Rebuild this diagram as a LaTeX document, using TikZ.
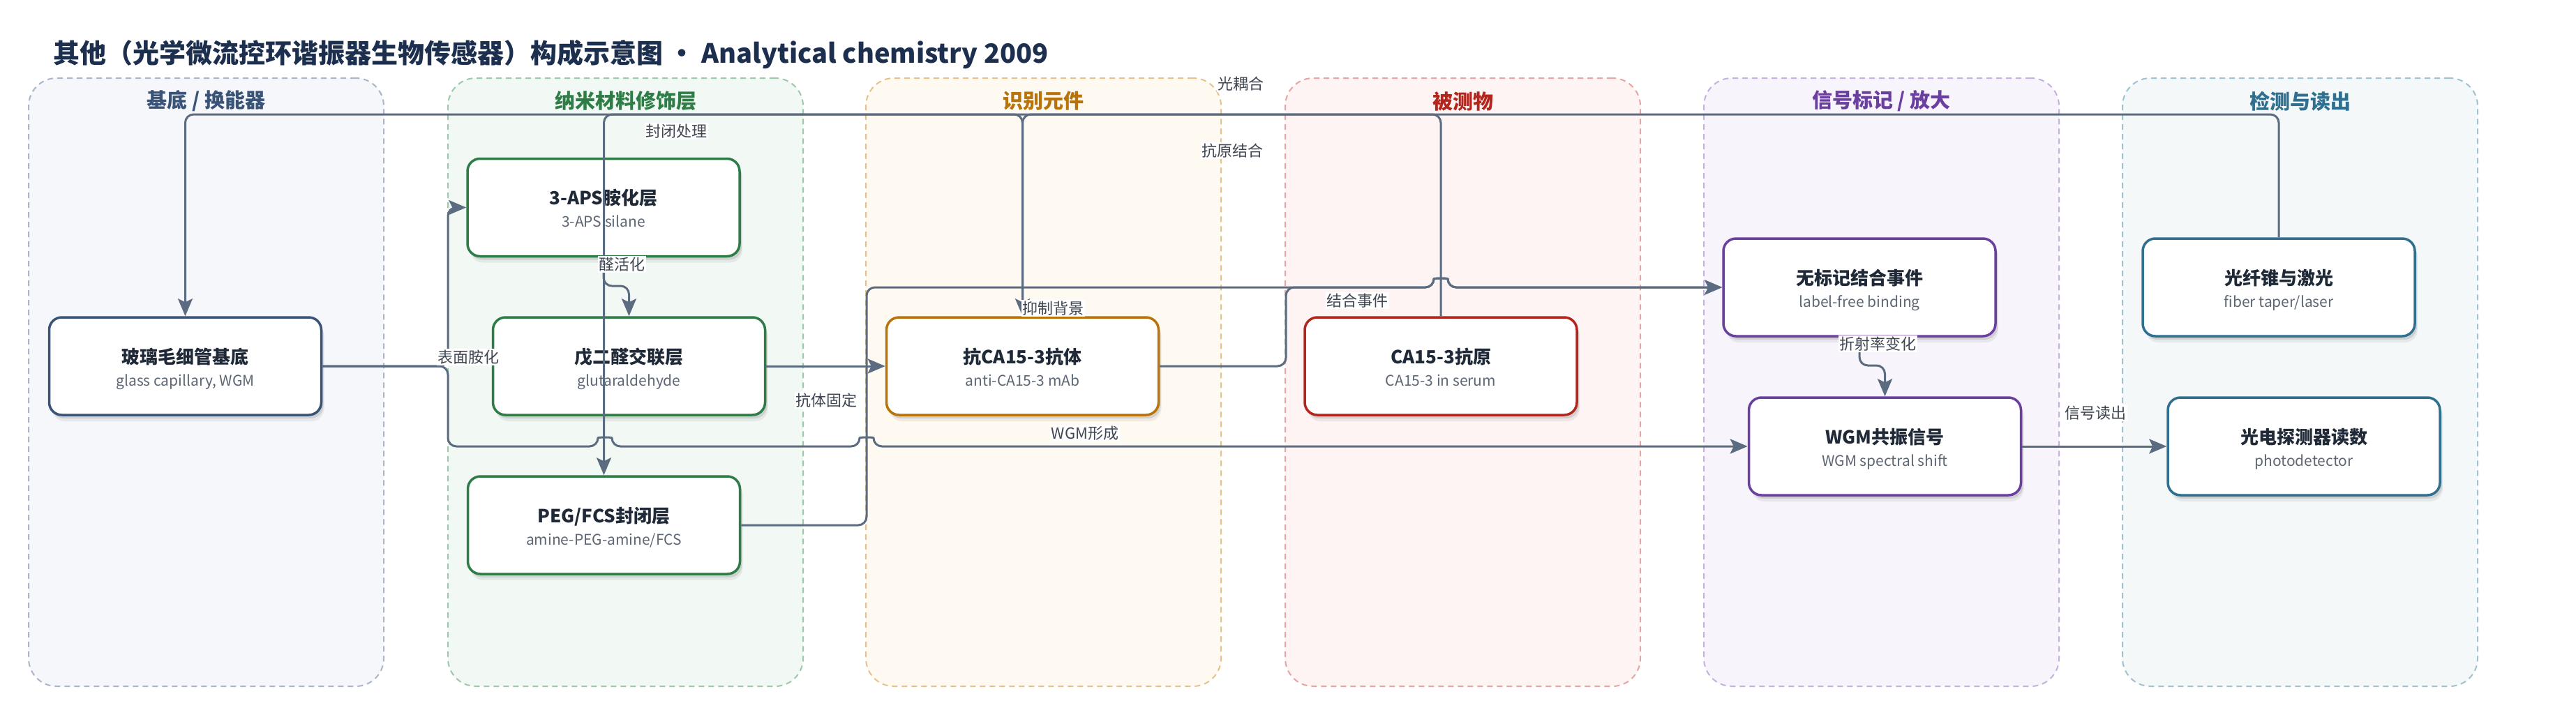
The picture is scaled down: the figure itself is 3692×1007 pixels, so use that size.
\documentclass[tikz,border=0pt]{standalone}
\usepackage{fontspec}
\setmainfont{Noto Sans CJK SC}
\usetikzlibrary{arrows.meta,shadows}
\definecolor{edgec}{HTML}{5B6B80}
\definecolor{labc}{HTML}{3F4652}
\definecolor{ttlc}{HTML}{1F2937}
\definecolor{subc}{HTML}{5D6673}
\definecolor{titlec}{HTML}{1C2F4F}
\definecolor{gab}{HTML}{A9B6CA}\definecolor{gaf}{HTML}{F5F7FB}\definecolor{gat}{HTML}{3A5478}
\definecolor{gbb}{HTML}{9CC9AA}\definecolor{gbf}{HTML}{F2F8F4}\definecolor{gbt}{HTML}{2E7D46}
\definecolor{gcb}{HTML}{E6C28A}\definecolor{gcf}{HTML}{FEF9F1}\definecolor{gct}{HTML}{B8730A}
\definecolor{gdb}{HTML}{E8A3A3}\definecolor{gdf}{HTML}{FDF4F3}\definecolor{gdt}{HTML}{B3261E}
\definecolor{geb}{HTML}{C5B0DF}\definecolor{gef}{HTML}{F7F4FB}\definecolor{get}{HTML}{6A3FA0}
\definecolor{gfb}{HTML}{A0C2D0}\definecolor{gff}{HTML}{F4F8F9}\definecolor{gft}{HTML}{2F6F8F}
\newcommand{\fsz}[1]{\fontsize{#1}{#1}\selectfont}
\newcommand{\mkbox}[6]{%
  \node[nbox, draw=#4] (#1) at (#2,#3) {};
  \node[ntitle, anchor=base] (#1-t) at (#2,#3-4) {#5};
  \node[nsub, anchor=base] (#1-s) at (#2,#3+28) {#6};
}
\begin{document}
\begin{tikzpicture}[x=1pt,y=-1pt]
\tikzset{
  grp/.style={dash pattern=on 8pt off 6pt, line width=2pt, rounded corners=40pt,
    minimum width=509pt, minimum height=872pt, inner sep=0pt},
  gtitle/.style={font=\fsz{29}\bfseries, inner sep=0pt},
  nbox/.style={fill=white, line width=3.5pt, rounded corners=18pt,
    minimum width=390pt, minimum height=140pt, inner sep=0pt,
    drop shadow={shadow xshift=3pt, shadow yshift=-5pt, opacity=0.10, fill=black},
    drop shadow={shadow xshift=4pt, shadow yshift=-9pt, opacity=0.06, fill=black}},
  ntitle/.style={font=\fsz{26}\bfseries, text=ttlc, inner sep=0pt},
  nsub/.style={font=\fsz{21}, text=subc, inner sep=0pt},
  edge/.style={draw=edgec, line width=3pt, rounded corners=12pt,
    -{Stealth[length=25pt, width=21pt, inset=5pt]}},
  elab/.style={fill=white, text=labc, font=\fsz{22}, inner sep=1.5pt},
}
\useasboundingbox (0,0) rectangle (3692,1007);
\fill[white] (0,0) rectangle (3692,1007);

% title
\node[anchor=base west, inner sep=0pt, text=titlec, font=\fsz{38}\bfseries] (title) at (76,90)
  {其他（光学微流控环谐振器生物传感器）构成示意图 • Analytical chemistry 2009};

% groups
\node[grp, draw=gab, fill=gaf] (g1) at (295.5,548) {};
\node[grp, draw=gbb, fill=gbf] (g2) at (896.5,548) {};
\node[grp, draw=gcb, fill=gcf] (g3) at (1495.5,548) {};
\node[grp, draw=gdb, fill=gdf] (g4) at (2096.5,548) {};
\node[grp, draw=geb, fill=gef] (g5) at (2696.5,548) {};
\node[grp, draw=gfb, fill=gff] (g6) at (3296.5,548) {};
\node[gtitle, text=gat] (g1-t) at (295.5,145) {基底 / 换能器};
\node[gtitle, text=gbt] (g2-t) at (896.5,145) {纳米材料修饰层};
\node[gtitle, text=gct] (g3-t) at (1495.5,145) {识别元件};
\node[gtitle, text=gdt] (g4-t) at (2096.5,145) {被测物};
\node[gtitle, text=get] (g5-t) at (2696.5,145) {信号标记 / 放大};
\node[gtitle, text=gft] (g6-t) at (3296.5,145) {检测与读出};

% nodes
\mkbox{glass}{265.5}{525}{gat}{玻璃毛细管基底}{glass capillary, WGM}
\mkbox{aps}{865}{297.5}{gbt}{3-APS胺化层}{3-APS silane}
\mkbox{glut}{901.5}{525}{gbt}{戊二醛交联层}{glutaraldehyde}
\mkbox{peg}{865.5}{753}{gbt}{PEG/FCS封闭层}{amine-PEG-amine/FCS}
\mkbox{ab}{1465.5}{525}{gct}{抗CA15-3抗体}{anti-CA15-3 mAb}
\mkbox{ag}{2065}{525}{gdt}{CA15-3抗原}{CA15-3 in serum}
\mkbox{lf}{2665}{412}{get}{无标记结合事件}{label-free binding}
\mkbox{wgm}{2701.5}{640}{get}{WGM共振信号}{WGM spectral shift}
\mkbox{fiber}{3266}{412}{gft}{光纤锥与激光}{fiber taper/laser}
\mkbox{pd}{3302}{640}{gft}{光电探测器读数}{photodetector}

% edges
\draw[edge] (fiber.north) -- (3266,164) -| (glass.north);
\draw[edge] (glass.east) -| (642,297.5) -- (aps.west);
\draw[edge] (glass.east) -| (642,640) -- (857,640)
   .. controls (857,626.7) and (877,626.7) .. (877,640) -- (1232,640)
   .. controls (1232,626.7) and (1252,626.7) .. (1252,640) -- (wgm.west);
\draw[edge] (aps.south) -- (865,410) -| (glut.north);
\draw[edge] (glut.east) -- (ab.west);
\draw[edge] (ab.north) -- (1465.5,164) -| (peg.north);
\draw[edge] (ag.north) -- (2065,164) -| (ab.north);
\draw[edge] (peg.east) -| (1242,412) -- (2055,412)
   .. controls (2055,398.7) and (2075,398.7) .. (2075,412) -- (lf.west);
\draw[edge] (ab.east) -| (1843,412) -- (2055,412)
   .. controls (2055,398.7) and (2075,398.7) .. (2075,412) -- (lf.west);
\draw[edge] (lf.south) -- (2665,524) -| (wgm.north);
\draw[edge] (wgm.east) -- (pd.west);

% edge labels
\node[elab] (l1) at (1778,120) {光耦合};
\node[elab] (l2) at (969,188) {封闭处理};
\node[elab] (l3) at (1766,216) {抗原结合};
\node[elab] (l4) at (891,379) {醛活化};
\node[elab] (l5) at (1509,442) {抑制背景};
\node[elab] (l6) at (1945,431) {结合事件};
\node[elab] (l7) at (671,512) {表面胺化};
\node[elab] (l8) at (1184,574) {抗体固定};
\node[elab] (l9) at (1555,621) {WGM形成};
\node[elab] (l10) at (2691,493) {折射率变化};
\node[elab] (l11) at (3003,592) {信号读出};
\end{tikzpicture}
\end{document}
